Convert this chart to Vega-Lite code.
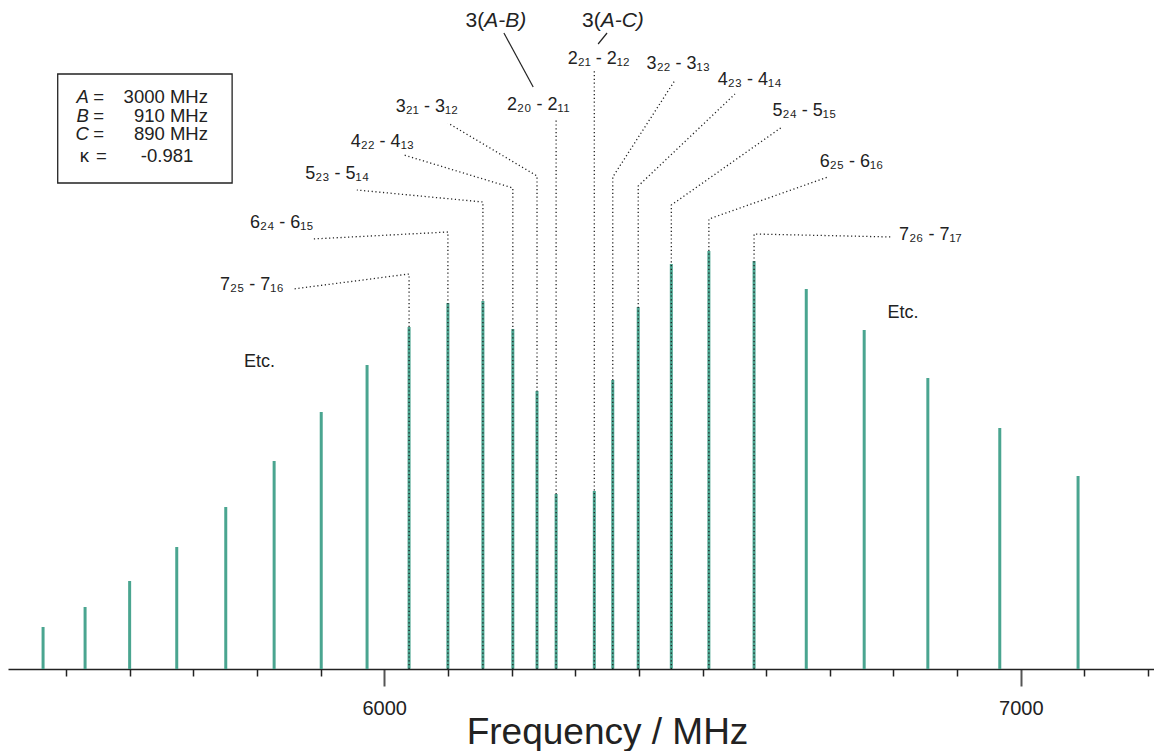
{
  "$schema": "https://vega.github.io/schema/vega-lite/v6.json",
  "width": 1146,
  "height": 669,
  "autosize": {"type": "none"},
  "padding": {"left": 8, "top": 0, "right": 0, "bottom": 82},
  "background": "white",
  "config": {"view": {"stroke": null}, "font": "Liberation Sans"},
  "datasets": {
    "lines": [
      {"f": 5464, "y": 42}, {"f": 5530, "y": 62}, {"f": 5600, "y": 88}, {"f": 5674, "y": 122},
      {"f": 5751, "y": 162}, {"f": 5827, "y": 208}, {"f": 5901, "y": 257}, {"f": 5973, "y": 304},
      {"f": 6039, "y": 342}, {"f": 6100, "y": 366}, {"f": 6155, "y": 368}, {"f": 6202, "y": 340},
      {"f": 6240, "y": 278}, {"f": 6270, "y": 175}, {"f": 6330, "y": 178}, {"f": 6359, "y": 289},
      {"f": 6399, "y": 362}, {"f": 6451, "y": 405}, {"f": 6510, "y": 418}, {"f": 6581, "y": 408},
      {"f": 6663, "y": 380}, {"f": 6754, "y": 339}, {"f": 6854, "y": 291}, {"f": 6967, "y": 241},
      {"f": 7090, "y": 193}
    ],
    "leaders": [
      {"label": "7_25", "seq": 0, "f": 6039, "y": 0}, {"label": "7_25", "seq": 1, "f": 6039, "y": 395}, {"label": "7_25", "seq": 2, "f": 5857, "y": 380},
      {"label": "6_24", "seq": 0, "f": 6100, "y": 0}, {"label": "6_24", "seq": 1, "f": 6100, "y": 437}, {"label": "6_24", "seq": 2, "f": 5887, "y": 430},
      {"label": "5_23", "seq": 0, "f": 6155, "y": 0}, {"label": "5_23", "seq": 1, "f": 6155, "y": 467}, {"label": "5_23", "seq": 2, "f": 5957, "y": 479},
      {"label": "4_22", "seq": 0, "f": 6202, "y": 0}, {"label": "4_22", "seq": 1, "f": 6202, "y": 481}, {"label": "4_22", "seq": 2, "f": 6031, "y": 514},
      {"label": "3_21", "seq": 0, "f": 6240, "y": 0}, {"label": "3_21", "seq": 1, "f": 6240, "y": 493}, {"label": "3_21", "seq": 2, "f": 6100, "y": 546},
      {"label": "2_20", "seq": 0, "f": 6270, "y": 0}, {"label": "2_20", "seq": 1, "f": 6270, "y": 551},
      {"label": "2_21", "seq": 0, "f": 6330, "y": 0}, {"label": "2_21", "seq": 1, "f": 6330, "y": 599},
      {"label": "3_22", "seq": 0, "f": 6359, "y": 0}, {"label": "3_22", "seq": 1, "f": 6359, "y": 492}, {"label": "3_22", "seq": 2, "f": 6457, "y": 589},
      {"label": "4_23", "seq": 0, "f": 6399, "y": 0}, {"label": "4_23", "seq": 1, "f": 6399, "y": 483}, {"label": "4_23", "seq": 2, "f": 6551, "y": 575},
      {"label": "5_24", "seq": 0, "f": 6451, "y": 0}, {"label": "5_24", "seq": 1, "f": 6451, "y": 464}, {"label": "5_24", "seq": 2, "f": 6625, "y": 542},
      {"label": "6_25", "seq": 0, "f": 6510, "y": 0}, {"label": "6_25", "seq": 1, "f": 6510, "y": 450}, {"label": "6_25", "seq": 2, "f": 6697, "y": 492},
      {"label": "7_26", "seq": 0, "f": 6581, "y": 0}, {"label": "7_26", "seq": 1, "f": 6581, "y": 435}, {"label": "7_26", "seq": 2, "f": 6799, "y": 432}
    ],
    "pointers": [
      {"label": "A-B", "seq": 0, "f": 6188, "y": 636}, {"label": "A-B", "seq": 1, "f": 6234, "y": 582},
      {"label": "A-C", "seq": 0, "f": 6350, "y": 636}, {"label": "A-C", "seq": 1, "f": 6336, "y": 625}
    ],
    "box": [{"f": 5487, "f2": 5761, "y": 595, "y2": 486}],
    "texts": [
      {"kind": "trans", "text": "7₂₅ - 7₁₆", "f": 5792, "y": 379},
      {"kind": "trans", "text": "6₂₄ - 6₁₅", "f": 5839, "y": 441},
      {"kind": "trans", "text": "5₂₃ - 5₁₄", "f": 5926, "y": 490},
      {"kind": "trans", "text": "4₂₂ - 4₁₃", "f": 5997, "y": 522},
      {"kind": "trans", "text": "3₂₁ - 3₁₂", "f": 6067, "y": 557},
      {"kind": "trans", "text": "2₂₀ - 2₁₁", "f": 6242, "y": 559},
      {"kind": "trans", "text": "2₂₁ - 2₁₂", "f": 6337, "y": 605},
      {"kind": "trans", "text": "3₂₂ - 3₁₃", "f": 6462, "y": 600},
      {"kind": "trans", "text": "4₂₃ - 4₁₄", "f": 6574, "y": 584},
      {"kind": "trans", "text": "5₂₄ - 5₁₅", "f": 6660, "y": 553},
      {"kind": "trans", "text": "6₂₅ - 6₁₆", "f": 6734, "y": 502},
      {"kind": "trans", "text": "7₂₆ - 7₁₇", "f": 6858, "y": 429},
      {"kind": "trans", "text": "Etc.", "f": 5804, "y": 302},
      {"kind": "trans", "text": "Etc.", "f": 6815, "y": 351},
      {"kind": "diffpre", "text": "3(", "f": 6157, "y": 642},
      {"kind": "diffterm", "text": "A-B)", "f": 6157, "y": 642},
      {"kind": "diffpre", "text": "3(", "f": 6340, "y": 642},
      {"kind": "diffterm", "text": "A-C)", "f": 6340, "y": 642},
      {"kind": "symit", "text": "A", "f": 5536, "y": 572},
      {"kind": "symit", "text": "B", "f": 5536, "y": 553},
      {"kind": "symit", "text": "C", "f": 5536, "y": 535},
      {"kind": "sym", "text": "κ", "f": 5536, "y": 513},
      {"kind": "eq", "text": "=", "f": 5543, "y": 572},
      {"kind": "eq", "text": "=", "f": 5543, "y": 553},
      {"kind": "eq", "text": "=", "f": 5543, "y": 535},
      {"kind": "eq", "text": "=", "f": 5547, "y": 513},
      {"kind": "val", "text": "3000 MHz", "f": 5723, "y": 572},
      {"kind": "val", "text": "910 MHz", "f": 5723, "y": 553},
      {"kind": "val", "text": "890 MHz", "f": 5723, "y": 535},
      {"kind": "val", "text": "-0.981", "f": 5700, "y": 513}
    ]
  },
  "encoding": {
    "x": {
      "field": "f",
      "type": "quantitative",
      "scale": {"domain": [5408.9, 7209.3], "nice": false, "zero": false},
      "axis": {
        "title": "Frequency / MHz",
        "values": [5500, 5600, 5700, 5800, 5900, 6000, 6100, 6200, 6300, 6400, 6500, 6600, 6700, 6800, 6900, 7000, 7100, 7200],
        "format": "d",
        "labelExpr": "datum.value % 1000 === 0 ? datum.label : ''",
        "labelOverlap": false,
        "labelFlush": false,
        "labelFont": "Liberation Sans",
        "labelFontSize": 20,
        "labelColor": "#222",
        "labelBaseline": "alphabetic",
        "labelPadding": 28,
        "tickSize": {"condition": {"test": "datum.value % 1000 === 0", "value": 17}, "value": 7},
        "tickColor": {"condition": {"test": "datum.value % 1000 === 0", "value": "#555"}, "value": "#222"},
        "tickWidth": {"condition": {"test": "datum.value % 1000 === 0", "value": 2}, "value": 1.5},
        "domainColor": "#222",
        "domainWidth": 1.5,
        "grid": false,
        "titleFont": "Liberation Sans",
        "titleFontSize": 37,
        "titleFontWeight": "normal",
        "titleColor": "#222",
        "titleX": 599,
        "titleY": 74,
        "titleAlign": "center",
        "titleBaseline": "alphabetic"
      }
    },
    "y": {
      "field": "y",
      "type": "quantitative",
      "scale": {"domain": [0, 669], "nice": false, "zero": false},
      "axis": null
    }
  },
  "layer": [
    {
      "data": {"name": "lines"},
      "mark": {"type": "rule", "color": "#4aa590", "strokeWidth": 3},
      "encoding": {"y2": {"datum": 0}}
    },
    {
      "data": {"name": "leaders"},
      "mark": {"type": "line", "color": "#222", "strokeWidth": 1.3, "strokeDash": [1.2, 2.6]},
      "encoding": {"detail": {"field": "label"}, "order": {"field": "seq"}}
    },
    {
      "data": {"name": "pointers"},
      "mark": {"type": "line", "color": "#222", "strokeWidth": 1.2},
      "encoding": {"detail": {"field": "label"}, "order": {"field": "seq"}}
    },
    {
      "data": {"name": "box"},
      "mark": {"type": "rect", "fill": "white", "stroke": "#222", "strokeWidth": 1.3},
      "encoding": {"x2": {"field": "f2"}, "y2": {"field": "y2"}}
    },
    {
      "data": {"name": "texts"},
      "transform": [{"filter": "datum.kind === 'trans'"}],
      "mark": {"type": "text", "fontSize": 18, "align": "center", "baseline": "alphabetic", "color": "#222"},
      "encoding": {"text": {"field": "text"}}
    },
    {
      "data": {"name": "texts"},
      "transform": [{"filter": "datum.kind === 'diffpre'"}],
      "mark": {"type": "text", "fontSize": 21, "align": "right", "baseline": "alphabetic", "color": "#222"},
      "encoding": {"text": {"field": "text"}}
    },
    {
      "data": {"name": "texts"},
      "transform": [{"filter": "datum.kind === 'diffterm'"}],
      "mark": {"type": "text", "fontSize": 21, "fontStyle": "italic", "align": "left", "baseline": "alphabetic", "color": "#222"},
      "encoding": {"text": {"field": "text"}}
    },
    {
      "data": {"name": "texts"},
      "transform": [{"filter": "datum.kind === 'symit'"}],
      "mark": {"type": "text", "fontSize": 18.5, "fontStyle": "italic", "align": "right", "baseline": "middle", "color": "#222"},
      "encoding": {"text": {"field": "text"}}
    },
    {
      "data": {"name": "texts"},
      "transform": [{"filter": "datum.kind === 'sym'"}],
      "mark": {"type": "text", "fontSize": 18.5, "align": "right", "baseline": "middle", "color": "#222"},
      "encoding": {"text": {"field": "text"}}
    },
    {
      "data": {"name": "texts"},
      "transform": [{"filter": "datum.kind === 'eq'"}],
      "mark": {"type": "text", "fontSize": 18.5, "align": "left", "baseline": "middle", "color": "#222"},
      "encoding": {"text": {"field": "text"}}
    },
    {
      "data": {"name": "texts"},
      "transform": [{"filter": "datum.kind === 'val'"}],
      "mark": {"type": "text", "fontSize": 18.5, "align": "right", "baseline": "middle", "color": "#222"},
      "encoding": {"text": {"field": "text"}}
    }
  ]
}
